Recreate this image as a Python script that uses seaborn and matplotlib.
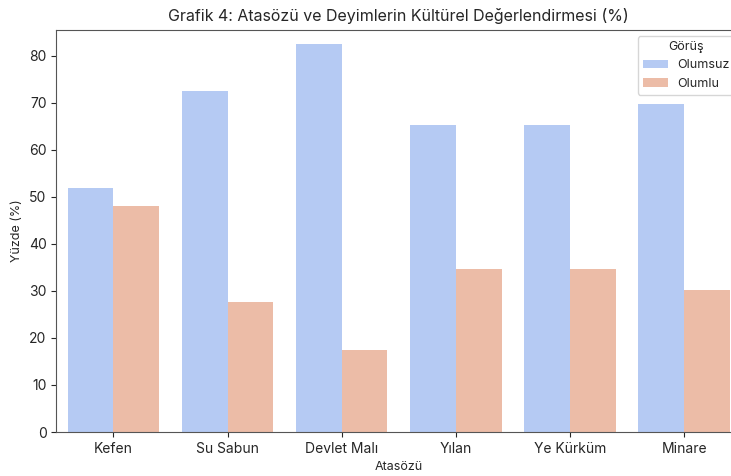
import matplotlib
matplotlib.use("Agg")
import matplotlib.pyplot as plt
import pandas as pd
import seaborn as sns

# values
atasozu = ["Kefen", "Su Sabun", "Devlet Malı", "Yılan", "Ye Kürküm", "Minare"]
olumsuz = [51.9, 72.4, 82.5, 65.3, 65.3, 69.8]
olumlu = [48.1, 27.6, 17.5, 34.7, 34.7, 30.2]

df = pd.DataFrame({
    "Atasözü": atasozu * 2,
    "Görüş": ["Olumsuz"] * len(atasozu) + ["Olumlu"] * len(atasozu),
    "Yüzde": olumsuz + olumlu,
})

sns.set_style("ticks")
plt.rcParams["font.family"] = ["Inter", "DejaVu Sans"]

fig = plt.figure(figsize=(7.31, 4.76), dpi=100)
ax = fig.add_axes([0.077, 0.0924, 0.937, 0.845])

sns.barplot(data=df, x="Atasözü", y="Yüzde", hue="Görüş", palette="coolwarm",
            linewidth=0, ax=ax)

ax.set_ylim(0, 85.5)
ax.set_title("Grafik 4: Atasözü ve Deyimlerin Kültürel Değerlendirmesi (%)", fontsize=11.5)
ax.set_xlabel("Atasözü", fontsize=9)
ax.set_ylabel("Yüzde (%)", fontsize=9)
ax.tick_params(axis="both", labelsize=10)
for s in ax.spines.values():
    s.set_color("#555555")

ax.legend(title="Görüş", loc="upper right", fontsize=9, title_fontsize=9)

fig.savefig("out.png", dpi=100)
